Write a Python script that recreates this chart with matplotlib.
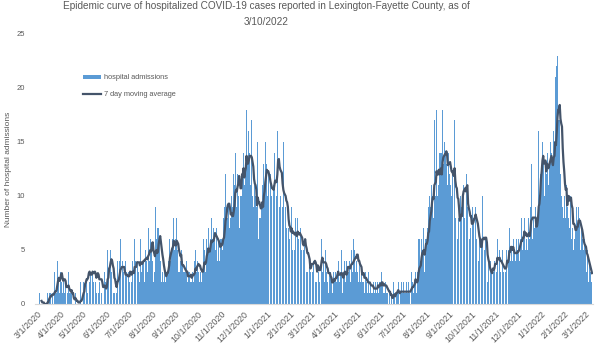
import matplotlib
matplotlib.use("Agg")
import matplotlib.pyplot as plt
import matplotlib.dates as mdates
import pandas as pd
import numpy as np

start_date = "2020-03-01"
title = "Epidemic curve of hospitalized COVID-19 cases reported in Lexington-Fayette County, as of\n3/10/2022"
ylabel = "Number of hospital admissions"
bar_label = "hospital admissions"
line_label = "7 day moving average"

mar20 = [1,0,0,1,0,0,0,0,0,0,0,0,0,0,1,0,2,1,1,0,1,1,0,3,2,1,1,4,4,2,1]
apr20 = [3,4,2,1,2,3,1,2,0,2,1,3,1,0,1,1,0,1,0,0,1,0,0,0,0,0,0,2,0,1]
may20 = [2,2,1,5,3,2,1,3,5,2,3,4,1,3,2,5,3,2,1,2,5,1,2,3,2,1,0,2,1,3,2]
jun20 = [1,2,5,3,7,4,5,3,1,2,1,1,3,2,1,4,3,2,4,6,3,2,4,3,2,1,4,3,2,3]
jul20 = [3,2,4,3,2,4,3,2,6,4,3,5,4,3,2,4,6,3,4,5,4,2,5,6,4,3,7,5,4,6,5]
aug20 = [9,4,2,3,2,9,6,7,5,7,6,4,5,2,3,2,3,3,2,3,4,3,4,6,8,4,5,6,4,8,5]
sep20 = [6,4,8,5,3,4,3,4,5,2,4,3,3,2,3,4,2,1,3,3,2,4,2,3,2,3,4,5,3,4]
oct20 = [4,3,2,4,3,2,3,4,6,5,3,4,6,5,7,4,5,6,8,5,6,7,6,8,5,7,4,5,6,4,6]
nov20 = [7,6,5,8,7,9,12,9,11,8,9,7,6,8,10,9,8,12,11,14,10,9,12,10,17,7,10,10,18,12]
dec20 = [14,11,11,12,18,13,12,16,14,11,12,17,10,9,8,11,10,9,7,15,6,8,9,8,9,11,12,13,11,15,12]
jan21 = [13,10,12,11,9,12,10,11,10,11,14,12,11,10,16,19,12,9,10,10,9,9,15,10,8,9,7,8,6,7,6]
feb21 = [7,6,9,5,7,6,5,8,6,7,8,6,5,6,7,5,6,4,5,6,9,3,3,3,4,3,4,3]
mar21 = [4,5,3,4,4,5,2,2,1,7,3,2,5,4,6,3,4,3,2,5,3,4,2,1,3,2,3,2,1,2,3]
apr21 = [2,3,4,2,3,4,1,2,3,5,2,1,3,4,3,2,4,3,5,3,4,2,4,5,3,6,4,5,3,4]
may21 = [7,3,2,4,3,2,3,2,4,2,1,3,2,2,1,3,2,1,2,1,2,1,2,1,1,2,1,2,3,1,2]
jun21 = [2,1,3,2,1,2,1,2,1,2,1,0,1,1,0,1,0,1,2,1,0,2,1,1,2,1,0,1,2,1]
jul21 = [1,2,1,0,1,2,1,1,2,1,0,2,3,2,1,3,2,3,1,2,3,6,6,3,4,6,5,4,7,3,6]
aug21 = [8,6,7,9,8,10,9,11,12,10,8,17,11,10,18,10,10,11,14,14,11,14,18,13,12,15,14,13,12,11,14]
sep21 = [12,16,11,10,12,9,13,17,8,7,9,6,8,7,9,10,9,8,19,11,8,10,8,12,9,7,8,6,7,8]
oct21 = [7,9,8,10,7,9,6,5,7,4,6,5,4,6,10,7,5,5,6,4,3,2,4,3,2,4,3,2,5,3,4]
nov21 = [5,4,3,6,4,3,5,3,4,2,5,3,2,4,3,5,6,4,5,7,4,6,5,4,6,3,5,4,6,5]
dec21 = [5,6,4,7,6,8,5,7,6,8,5,7,6,5,8,7,6,9,13,7,6,8,7,6,9,7,8,10,16,9,12]
jan22 = [19,12,15,13,11,10,13,12,17,14,11,13,12,15,14,13,12,16,14,21,13,22,23,17,16,17,12,10,20,9,8]
feb22 = [10,9,8,11,9,15,8,7,10,9,6,7,5,8,6,7,9,8,7,9,8,6,5,7,6,4,5,6]
mar22 = [5,4,3,5,2,3,4,3,2,1]

months = [mar20, apr20, may20, jun20, jul20, aug20, sep20, oct20, nov20, dec20,
          jan21, feb21, mar21, apr21, may21, jun21, jul21, aug21, sep21, oct21,
          nov21, dec21, jan22, feb22, mar22]
admissions = [v for m in months for v in m]
dates = pd.date_range(start_date, periods=len(admissions), freq="D")
s = pd.Series(admissions, index=dates)
ma = s.rolling(7).mean()

bar_color = "#5B9BD5"
line_color = "#44546A"
text_color = "#595959"

plt.rcParams["font.family"] = ["Liberation Sans", "DejaVu Sans"]

fig = plt.figure(figsize=(6, 3.5), dpi=100)
ax = fig.add_axes([35/600, 46/350, 558/600, 270/350])

bars = ax.bar(s.index, s.values, width=0.9, color=bar_color, linewidth=0, label=bar_label, zorder=2)
line, = ax.plot(ma.index, ma.values, color=line_color, linewidth=1.6, label=line_label, zorder=3)

x0 = mdates.date2num(pd.Timestamp(start_date)) - 2.7
x1 = mdates.date2num(dates[-1]) + 1.3
ax.set_xlim(x0, x1)
ax.set_ylim(0, 25)
ax.set_yticks([0, 5, 10, 15, 20, 25])

ticks = pd.date_range(start_date, dates[-1], freq="MS")
ax.set_xticks(ticks)
ax.set_xticklabels([f"{d.month}/{d.day}/{d.year}" for d in ticks], rotation=45,
                   ha="right", rotation_mode="anchor", fontsize=6.4, color=text_color)
ax.tick_params(axis="x", length=0, pad=4)
ax.tick_params(axis="y", length=0, labelsize=5.5, labelcolor=text_color, pad=7)

for sp in ["top", "right", "left"]:
    ax.spines[sp].set_visible(False)
ax.spines["bottom"].set_color("#D9D9D9")
ax.spines["bottom"].set_linewidth(0.8)

ax.set_ylabel(ylabel, fontsize=6, color=text_color)
ax.yaxis.set_label_coords((12.0 - 35.0) / 558.0, 0.5)

fig.text(266 / 600, 1.0 - 1 / 350, title, ha="center", va="top", fontsize=7.2,
         color=text_color, linespacing=1.8)

leg = ax.legend(handles=[bars, line], labels=[bar_label, line_label],
                loc="upper left", bbox_to_anchor=(0.075, 0.875), frameon=False,
                fontsize=5.3, handlelength=2.4, handleheight=0.45, labelspacing=1.3,
                labelcolor=text_color, handletextpad=0.4)

fig.savefig("out.png", dpi=100)
